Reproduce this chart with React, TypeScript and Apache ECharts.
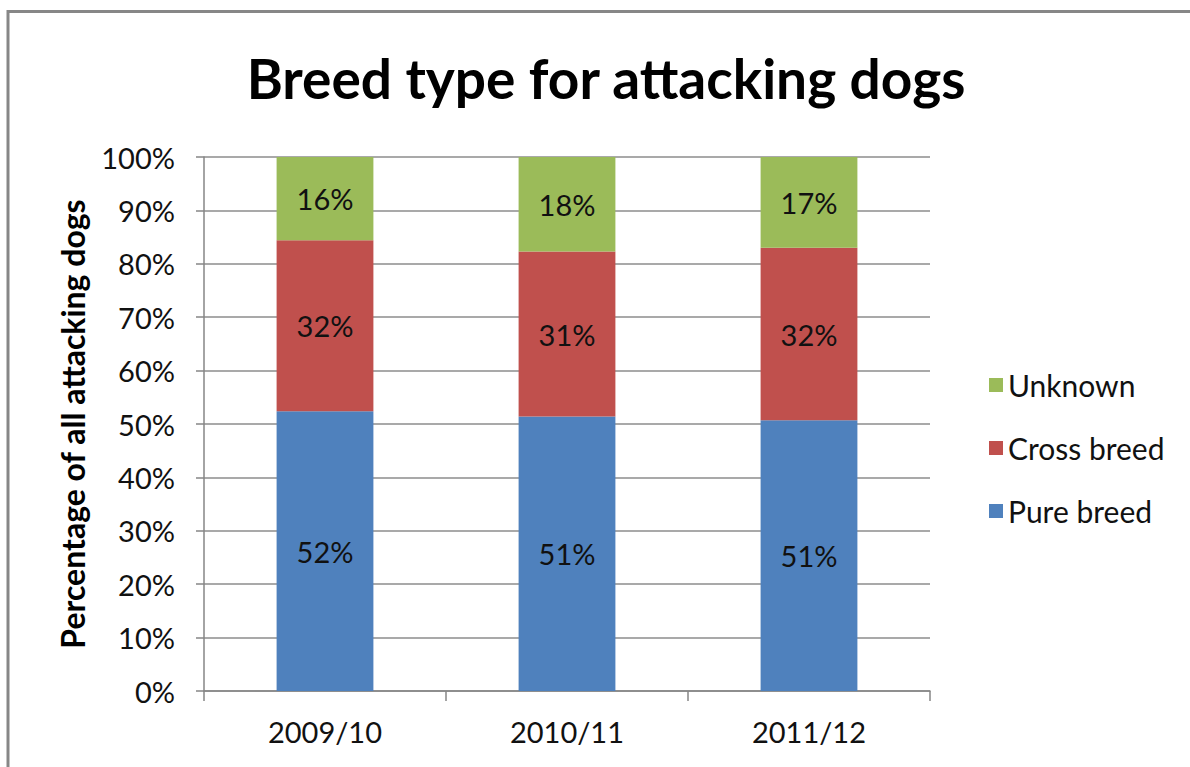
import React, { useEffect, useRef } from "react";
import * as echarts from "echarts";

const categories = ["2009/10", "2010/11", "2011/12"];
const pureBreed = [52.4, 51.4, 50.7];
const crossBreed = [32.0, 30.9, 32.3];
const unknown = [15.6, 17.7, 17.0];
const legendOrder = ["Unknown", "Cross breed", "Pure breed"];

const FONT = "Lato";

export default function App() {
  const ref = useRef<HTMLDivElement>(null);
  useEffect(() => {
    if (!ref.current) return;
    const chart = echarts.init(ref.current, undefined, { renderer: "svg" });
    const label = {
      show: true,
      position: "inside",
      color: "#111",
      fontFamily: FONT,
      fontSize: 29,
      formatter: (p: any) => Math.round(p.value) + "%",
    };
    const mk = (name: string, data: number[], color: string) => ({
      name,
      type: "bar",
      stack: "all",
      data,
      barCategoryGap: "60%",
      itemStyle: { color },
      label,
    });
    chart.setOption({
      animation: false,
      backgroundColor: "#ffffff",
      textStyle: { fontFamily: FONT },
      graphic: [
        {
          type: "rect",
          shape: { x: 8, y: 11.4, width: 1300, height: 900 },
          style: { fill: "none", stroke: "#878787", lineWidth: 3 },
          silent: true,
        },
        {
          type: "text",
          x: 606,
          y: 78,
          style: {
            text: "Breed type for attacking dogs",
            font: `bold 55px ${FONT}`,
            fill: "#000",
            textAlign: "center",
            textVerticalAlign: "middle",
          },
        },
      ],
      grid: { left: 204, right: 260, top: 157, bottom: 76 },
      legend: {
        data: legendOrder,
        orient: "vertical",
        left: 984,
        top: 365,
        itemWidth: 14,
        itemHeight: 14,
        itemGap: 33,
        icon: "rect",
        textStyle: { fontFamily: FONT, fontSize: 30, color: "#111" },
      },
      xAxis: {
        type: "category",
        data: categories,
        axisLine: { lineStyle: { color: "#868686", width: 1.5 } },
        axisTick: { show: true, length: 10, lineStyle: { color: "#868686", width: 1.5 } },
        axisLabel: { color: "#111", fontFamily: FONT, fontSize: 29, margin: 26 },
      },
      yAxis: {
        type: "value",
        min: 0,
        max: 100,
        interval: 10,
        name: "Percentage of all attacking dogs",
        nameLocation: "middle",
        nameGap: 116,
        nameTextStyle: { fontFamily: FONT, fontSize: 32, fontWeight: "bold", color: "#000" },
        axisLine: { show: true, lineStyle: { color: "#868686", width: 1.5 } },
        axisTick: { show: true, length: 8, lineStyle: { color: "#868686", width: 1.5 } },
        axisLabel: { color: "#111", fontFamily: FONT, fontSize: 29, margin: 29, formatter: "{value}%" },
        splitLine: { lineStyle: { color: "#8c8c8c", width: 1.5 } },
      },
      series: [
        mk("Pure breed", pureBreed, "#4F81BD"),
        mk("Cross breed", crossBreed, "#C0504D"),
        mk("Unknown", unknown, "#9BBB59"),
      ],
    });
    return () => chart.dispose();
  }, []);
  return (
    <div
      ref={ref}
      style={{ position: "fixed", left: 0, top: 0, width: 1190, height: 767 }}
    />
  );
}
